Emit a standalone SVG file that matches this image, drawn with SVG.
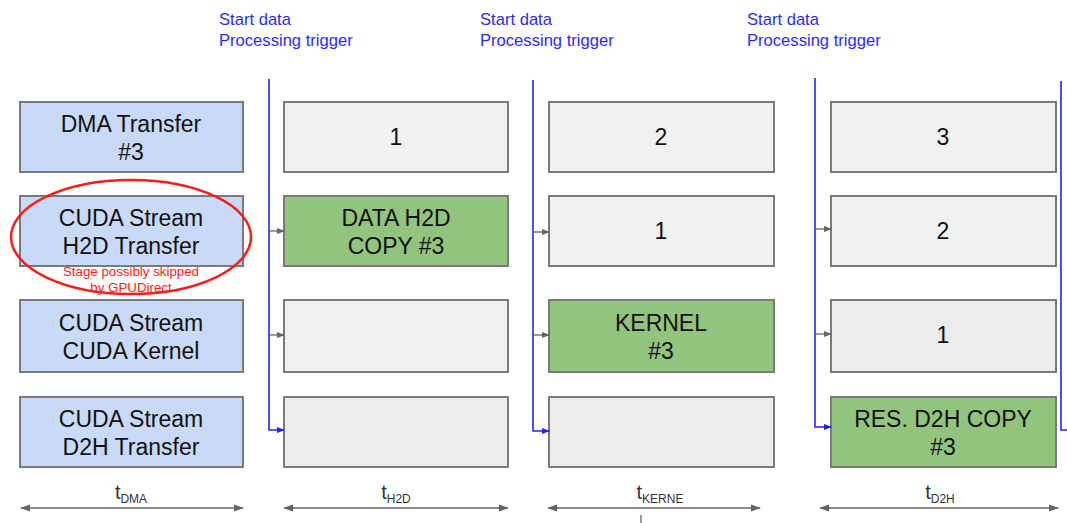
<svg xmlns="http://www.w3.org/2000/svg" width="1067" height="523" viewBox="0 0 1067 523">
<defs>
<style>
.box{stroke:#7a7a7a;stroke-width:2}
.stage{fill:#c9daf8}
.idle{fill:#f1f1f1}
.idle2{fill:#ececec}
.act{fill:#93c47d}
.t{font-family:"Liberation Sans",Arial,sans-serif;font-size:23px;fill:#111;text-anchor:middle}
.lbl{font-family:"Liberation Sans",Arial,sans-serif;font-size:16.6px;fill:#2b2bff}
.red{font-family:"Liberation Sans",Arial,sans-serif;font-size:13.3px;fill:#ff2020;text-anchor:middle}
.tt{font-family:"Liberation Sans",Arial,sans-serif;font-size:20px;fill:#333;text-anchor:middle}
.sub{font-size:12px}
.blue{fill:none;stroke:#2222ff;stroke-width:1.6}
.gray{fill:none;stroke:#666;stroke-width:1.3}
.dim{fill:none;stroke:#666;stroke-width:1.3}
</style>
<marker id="ab" markerWidth="8" markerHeight="6" refX="7" refY="3" orient="auto" markerUnits="userSpaceOnUse"><path d="M0,0 L8,3 L0,6 z" fill="#2222ff"/></marker>
<marker id="ag" markerWidth="8" markerHeight="6" refX="7" refY="3" orient="auto" markerUnits="userSpaceOnUse"><path d="M0,0 L8,3 L0,6 z" fill="#666"/></marker>
<marker id="ad" markerWidth="10" markerHeight="8" refX="9" refY="4" orient="auto-start-reverse" markerUnits="userSpaceOnUse"><path d="M0,0.5 L10,4 L0,7.5 z" fill="#666"/></marker>
</defs>

<g id="labels">
<text class="lbl" x="219" y="25">Start data</text>
<text class="lbl" x="219" y="46">Processing trigger</text>
<text class="lbl" x="480" y="25">Start data</text>
<text class="lbl" x="480" y="46">Processing trigger</text>
<text class="lbl" x="747" y="25">Start data</text>
<text class="lbl" x="747" y="46">Processing trigger</text>
</g>

<g id="stage-dma"><rect class="box stage" x="20" y="102" width="223" height="70"/><text class="t" x="131" y="132">DMA Transfer</text><text class="t" x="131" y="160">#3</text></g>
<g id="stage-h2d"><rect class="box stage" x="20" y="196" width="223" height="70"/><text class="t" x="131" y="226">CUDA Stream</text><text class="t" x="131" y="254">H2D Transfer</text></g>
<g id="stage-kernel"><rect class="box stage" x="20" y="300" width="223" height="72"/><text class="t" x="131" y="331">CUDA Stream</text><text class="t" x="131" y="359">CUDA Kernel</text></g>
<g id="stage-d2h"><rect class="box stage" x="20" y="397" width="223" height="70"/><text class="t" x="131" y="427">CUDA Stream</text><text class="t" x="131" y="455">D2H Transfer</text></g>

<g id="gpudirect-note">
<ellipse cx="131" cy="237" rx="120" ry="57" fill="none" stroke="#ff1a1a" stroke-width="2.5"/>
<text class="red" x="131" y="276">Stage possibly skipped</text>
<text class="red" x="131" y="292">by GPUDirect</text>
</g>

<g id="c2r1"><rect class="box idle" x="284" y="102" width="224" height="70"/><text class="t" x="396" y="145">1</text></g>
<g id="c2r2"><rect class="box act" x="284" y="196" width="224" height="70"/><text class="t" x="396" y="226">DATA H2D</text><text class="t" x="396" y="254">COPY #3</text></g>
<g id="c2r3"><rect class="box idle" x="284" y="300" width="224" height="72"/></g>
<g id="c2r4"><rect class="box idle2" x="284" y="397" width="224" height="70"/></g>

<g id="c3r1"><rect class="box idle" x="549" y="102" width="225" height="70"/><text class="t" x="661" y="145">2</text></g>
<g id="c3r2"><rect class="box idle" x="549" y="196" width="225" height="70"/><text class="t" x="661" y="239">1</text></g>
<g id="c3r3"><rect class="box act" x="549" y="300" width="225" height="72"/><text class="t" x="661" y="331">KERNEL</text><text class="t" x="661" y="359">#3</text></g>
<g id="c3r4"><rect class="box idle2" x="549" y="397" width="225" height="70"/></g>

<g id="c4r1"><rect class="box idle" x="831" y="102" width="225" height="70"/><text class="t" x="943" y="145">3</text></g>
<g id="c4r2"><rect class="box idle" x="831" y="196" width="225" height="70"/><text class="t" x="943" y="239">2</text></g>
<g id="c4r3"><rect class="box idle2" x="831" y="300" width="225" height="72"/><text class="t" x="943" y="343">1</text></g>
<g id="c4r4"><rect class="box act" x="831" y="397" width="225" height="70"/><text class="t" x="943" y="427">RES. D2H COPY</text><text class="t" x="943" y="455">#3</text></g>

<g id="connectors">
<path class="blue" d="M269,79 V430 H284" marker-end="url(#ab)"/>
<path class="blue" d="M533,80 V431 H549" marker-end="url(#ab)"/>
<path class="blue" d="M815,78 V427 H831" marker-end="url(#ab)"/>
<path class="blue" d="M1061,81 V430 H1067"/>
<path class="gray" d="M270,231 H284" marker-end="url(#ag)"/>
<path class="gray" d="M270,335 H284" marker-end="url(#ag)"/>
<path class="gray" d="M534,232 H549" marker-end="url(#ag)"/>
<path class="gray" d="M534,335 H549" marker-end="url(#ag)"/>
<path class="gray" d="M816,229 H831" marker-end="url(#ag)"/>
<path class="gray" d="M816,334 H831" marker-end="url(#ag)"/>
</g>

<g id="durations">
<path class="dim" d="M21,508 H243" marker-start="url(#ad)" marker-end="url(#ad)"/>
<path class="dim" d="M284,508 H508" marker-start="url(#ad)" marker-end="url(#ad)"/>
<path class="dim" d="M548,508 H760" marker-start="url(#ad)" marker-end="url(#ad)"/>
<path class="dim" d="M820,508 H1058" marker-start="url(#ad)" marker-end="url(#ad)"/>
<path class="dim" d="M641,515 V523"/>
<text class="tt" x="131" y="499">t<tspan class="sub" dy="4">DMA</tspan></text>
<text class="tt" x="396" y="499">t<tspan class="sub" dy="4">H2D</tspan></text>
<text class="tt" x="660" y="499">t<tspan class="sub" dy="4">KERNE</tspan></text>
<text class="tt" x="940" y="499">t<tspan class="sub" dy="4">D2H</tspan></text>
</g>
</svg>
